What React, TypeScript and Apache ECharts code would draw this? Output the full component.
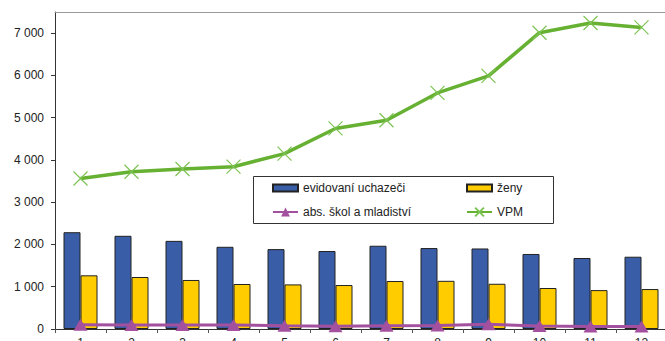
import React, { useEffect, useRef } from "react";
import * as echarts from "echarts";

const categories = ["1", "2", "3", "4", "5", "6", "7", "8", "9", "10", "11", "12"];
const evidovani = [2290, 2205, 2085, 1945, 1890, 1845, 1970, 1915, 1905, 1775, 1680, 1710];
const zeny = [1270, 1230, 1160, 1065, 1055, 1040, 1135, 1140, 1070, 970, 920, 945];
const absolventi = [100, 95, 95, 95, 75, 65, 75, 85, 110, 70, 60, 60];
const vpm = [3560, 3720, 3785, 3840, 4150, 4745, 4940, 5585, 5990, 7010, 7240, 7135];
const yTicks = [0, 1000, 2000, 3000, 4000, 5000, 6000, 7000];

const BLUE = "#3a5da8";
const YELLOW = "#ffcc00";
const PURPLE = "#a3509f";
const GREEN = "#66b032";
const FONT = "Liberation Sans, Arial, sans-serif";

function fmt(v: number): string {
  return String(v).replace(/\B(?=(\d{3})+(?!\d))/g, " ");
}

export default function App() {
  const ref = useRef<HTMLDivElement>(null);
  useEffect(() => {
    if (!ref.current) return;
    const chart = echarts.init(ref.current, null, { renderer: "svg" });
    const legendText = { fontFamily: FONT, fontSize: 12, color: "#222" };
    const legendBase = {
      itemWidth: 25,
      itemHeight: 7,
      padding: 0,
      textStyle: legendText,
      z: 5,
    };
    chart.setOption({
      animation: false,
      backgroundColor: "#fff",
      grid: {
        left: 55,
        right: -2,
        top: 12,
        bottom: 12,
        containLabel: false,
        outerBoundsMode: "none",
      },
      xAxis: [
        {
          type: "category",
          data: categories,
          position: "bottom",
          axisLine: { lineStyle: { color: "#333", width: 1 } },
          axisTick: { show: true, inside: false, length: 4, lineStyle: { color: "#555" } },
          axisLabel: { fontFamily: FONT, fontSize: 12, color: "#222", margin: 8 },
        },
        {
          type: "category",
          data: categories,
          position: "top",
          axisLine: { lineStyle: { color: "#999", width: 1 } },
          axisTick: { show: false },
          axisLabel: { show: false },
        },
      ],
      yAxis: {
        type: "value",
        min: 0,
        max: 7500,
        interval: 1000,
        splitLine: { show: false },
        axisLine: { show: true, lineStyle: { color: "#333", width: 1 } },
        axisTick: { show: true, length: 4, customValues: yTicks, lineStyle: { color: "#333" } },
        axisLabel: {
          customValues: yTicks,
          fontFamily: FONT,
          fontSize: 12,
          color: "#222",
          margin: 11,
          formatter: (v: number) => fmt(v),
        },
      },
      legend: [
        { ...legendBase, icon: "rect", data: ["evidovaní uchazeči"], left: 272, top: 182 },
        { ...legendBase, icon: "rect", data: ["ženy"], left: 466, top: 182 },
        { ...legendBase, itemHeight: 11, data: ["abs. škol a mladiství"], left: 272, top: 206 },
        { ...legendBase, itemHeight: 11, data: ["VPM"], left: 466, top: 206 },
      ],
      graphic: [
        {
          type: "rect",
          shape: { x: 253.5, y: 176.5, width: 300, height: 47 },
          style: { fill: "#fff", stroke: "#333", lineWidth: 1 },
          z: 1,
        },
      ],
      series: [
        {
          name: "evidovaní uchazeči",
          type: "bar",
          data: evidovani,
          barWidth: 17,
          barGap: "0%",
          itemStyle: { color: BLUE, borderColor: "#222", borderWidth: 1 },
          z: 2,
        },
        {
          name: "ženy",
          type: "bar",
          data: zeny,
          barWidth: 17,
          barGap: "0%",
          itemStyle: { color: YELLOW, borderColor: "#222", borderWidth: 1 },
          z: 2,
        },
        {
          name: "abs. škol a mladiství",
          type: "line",
          data: absolventi,
          symbol: "triangle",
          symbolSize: [14, 12],
          lineStyle: { color: PURPLE, width: 3 },
          itemStyle: { color: PURPLE },
          z: 3,
        },
        {
          name: "VPM",
          type: "line",
          data: vpm,
          symbol: "path://M0,0L10,10M10,0L0,10",
          symbolSize: 14,
          lineStyle: { color: GREEN, width: 3.5 },
          itemStyle: { color: GREEN, borderColor: "#7cc353", borderWidth: 1.2 },
          z: 3,
        },
      ],
    });
    return () => chart.dispose();
  }, []);
  return (
    <div
      ref={ref}
      style={{ position: "fixed", left: 0, top: 0, width: 665, height: 341 }}
    />
  );
}
